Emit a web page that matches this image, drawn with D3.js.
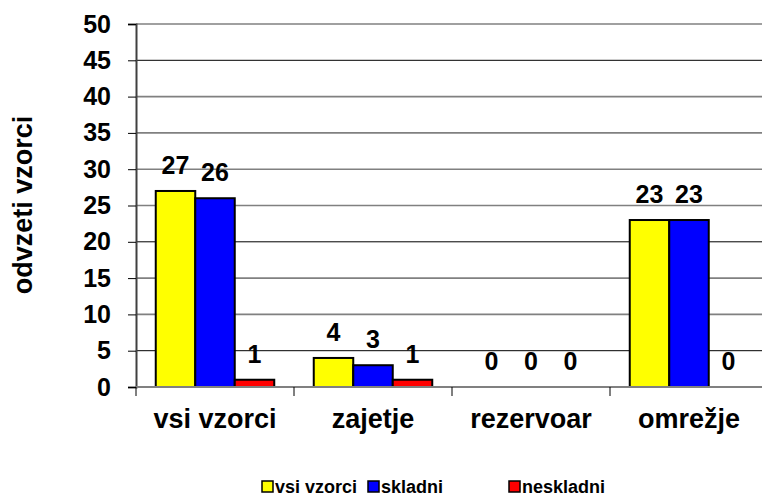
<!doctype html>
<html>
<head>
<meta charset="utf-8">
<script src="https://d3js.org/d3.v7.min.js"></script>
<style>
    body { margin: 0; background: #fff; }
    text { font-family: "Liberation Sans", Arial, sans-serif; font-weight: bold; fill: #000; }
</style>
</head>
<body>
<svg width="762" height="496"></svg>
<script>
    var categories = ["vsi vzorci", "zajetje", "rezervoar", "omrežje"];
    var seriesNames = ["vsi vzorci", "skladni", "neskladni"];
    var vsiVzorci = [27, 4, 0, 23];
    var skladni = [26, 3, 0, 23];
    var neskladni = [1, 1, 0, 0];
    var yTicks = [0, 5, 10, 15, 20, 25, 30, 35, 40, 45, 50];
    var colors = ["#ffff00", "#0000ff", "#ff0000"];

    var values = [vsiVzorci, skladni, neskladni];

    var svg = d3.select("svg");
    var plotLeft = 136, plotTop = 24, plotBottom = 387, catW = 158;

    var x0 = d3.scaleBand().domain(categories)
        .range([plotLeft, plotLeft + catW * categories.length]).padding(0);
    var x1 = d3.scaleBand().domain(seriesNames)
        .range([0, x0.bandwidth()]).paddingInner(0).paddingOuter(0.5);
    var y = d3.scaleLinear().domain([0, 50]).range([plotBottom, plotTop]);

    // gridlines (Excel render: some grey, some black)
    svg.append("g").selectAll("line")
        .data(yTicks.filter(function(d) { return d > 0; }))
        .enter().append("line")
        .attr("x1", plotLeft).attr("x2", 762)
        .attr("y1", function(d) { return y(d); })
        .attr("y2", function(d) { return y(d); })
        .attr("stroke", function(d) { return (d == 45 || d == 20 || d == 5) ? "#000" : "#808080"; })
        .attr("stroke-width", function(d) { return (d == 45 || d == 20 || d == 5) ? 1 : 1.6; });

    // y axis
    var yAxis = svg.append("g")
        .attr("transform", "translate(" + plotLeft + ",0)")
        .call(d3.axisLeft(y).tickValues(yTicks).tickSize(8).tickPadding(17));
    yAxis.select(".domain").attr("stroke", "#404040").attr("stroke-width", 2);
    yAxis.selectAll(".tick line").attr("stroke", "#000");
    yAxis.selectAll(".tick text")
        .style("font-family", "'Liberation Sans', Arial, sans-serif")
        .style("font-weight", "bold")
        .style("font-size", "25px")
        .attr("fill", "#000");

    // bars
    var groups = svg.append("g").selectAll("g")
        .data(seriesNames)
        .enter().append("g")
        .attr("fill", function(d, i) { return colors[i]; });

    groups.selectAll("rect")
        .data(function(s, i) { return categories.map(function(c, j) { return {c: c, s: s, v: values[i][j]}; }); })
        .enter().append("rect")
        .filter(function(d) { return d.v > 0; })
        .attr("x", function(d) { return x0(d.c) + x1(d.s); })
        .attr("y", function(d) { return y(d.v); })
        .attr("width", x1.bandwidth())
        .attr("height", function(d) { return y(0) - y(d.v); })
        .attr("stroke", "#000")
        .attr("stroke-width", 2);

    // value labels
    groups.selectAll("text")
        .data(function(s, i) { return categories.map(function(c, j) { return {c: c, s: s, v: values[i][j]}; }); })
        .enter().append("text")
        .attr("x", function(d) { return x0(d.c) + x1(d.s) + x1.bandwidth() / 2; })
        .attr("y", function(d) { return y(d.v) - 17; })
        .attr("text-anchor", "middle")
        .style("font-size", "25px")
        .style("fill", "#000")
        .text(function(d) { return d.v; });

    // x axis
    svg.append("line")
        .attr("x1", plotLeft).attr("x2", 762)
        .attr("y1", plotBottom).attr("y2", plotBottom)
        .attr("stroke", "#808080").attr("stroke-width", 2);
    svg.append("g").selectAll("line")
        .data(categories)
        .enter().append("line")
        .attr("x1", function(d) { return x0(d); })
        .attr("x2", function(d) { return x0(d); })
        .attr("y1", plotBottom).attr("y2", plotBottom + 9)
        .attr("stroke", "#000");
    svg.append("g").selectAll("text")
        .data(categories)
        .enter().append("text")
        .attr("x", function(d) { return x0(d) + x0.bandwidth() / 2; })
        .attr("y", 428)
        .attr("text-anchor", "middle")
        .style("font-size", "27px")
        .text(function(d) { return d; });

    // y title
    svg.append("text")
        .attr("transform", "translate(32,205) rotate(-90)")
        .attr("text-anchor", "middle")
        .style("font-size", "27px")
        .text("odvzeti vzorci");

    // legend
    var legendX = [262, 368, 509];
    var legend = svg.append("g").selectAll("g")
        .data(seriesNames)
        .enter().append("g")
        .attr("transform", function(d, i) { return "translate(" + legendX[i] + ",481)"; });
    legend.append("rect")
        .attr("width", 11).attr("height", 11)
        .attr("fill", function(d, i) { return colors[i]; })
        .attr("stroke", "#000").attr("stroke-width", 1.5);
    legend.append("text")
        .attr("x", 13).attr("y", 12)
        .style("font-size", "18px")
        .text(function(d) { return d; });
</script>
</body>
</html>
